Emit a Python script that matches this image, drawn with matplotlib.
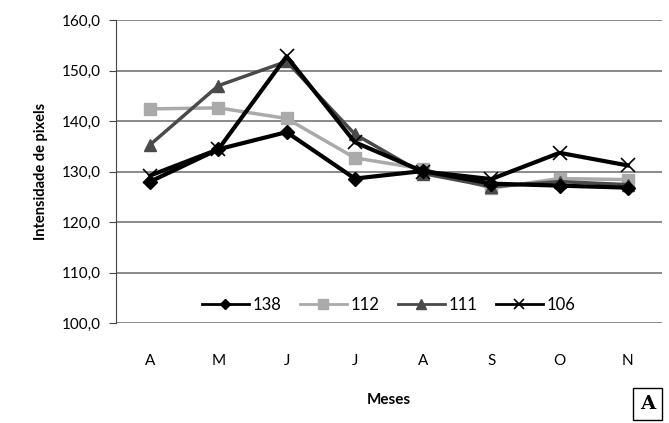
import matplotlib
matplotlib.use("Agg")
import matplotlib.pyplot as plt
from matplotlib.ticker import FuncFormatter

meses = ["A", "M", "J", "J", "A", "S", "O", "N"]
s138 = [128.0, 134.4, 137.8, 128.6, 130.1, 127.6, 127.2, 126.8]
s112 = [142.4, 142.6, 140.5, 132.7, 130.5, 126.7, 128.6, 128.4]
s111 = [135.3, 147.0, 151.8, 137.4, 129.6, 127.0, 128.0, 127.4]
s106 = [129.2, 134.4, 152.8, 135.8, 130.0, 128.5, 133.7, 131.2]

plt.rcParams['font.family'] = ['Lato', 'DejaVu Sans']

fig = plt.figure(figsize=(6.69, 4.23), dpi=100)
ax = fig.add_axes([0.1734, 0.2364, 0.816, 0.7163])
x = list(range(len(meses)))

ax.plot(x, s138, color='black', lw=3, marker='D', ms=7, label='138', zorder=4)
ax.plot(x, s112, color='#aaaaaa', lw=2.5, marker='s', ms=9, label='112', zorder=3)
ax.plot(x, s111, color='#4a4a4a', lw=2.5, marker='^', ms=9, label='111', zorder=3)
ax.plot(x, s106, color='black', lw=3, marker='x', ms=10, mew=1.2, label='106', zorder=5)

ax.set_xlim(-0.5, len(meses) - 0.5)
ax.set_ylim(100, 160)
ax.set_yticks(range(100, 161, 10))
ax.yaxis.set_major_formatter(FuncFormatter(lambda v, p: f"{v:.1f}".replace('.', ',')))
ax.set_xticks(x)
ax.set_xticklabels(meses)
ax.grid(axis='y', color='#777777', lw=1.2)
ax.set_axisbelow(True)
for s in ['top', 'right', 'bottom']:
    ax.spines[s].set_visible(False)
ax.spines['left'].set_color('#444444')
ax.tick_params(axis='y', direction='out', length=5, color='#444444', labelsize=11, pad=6)
ax.tick_params(axis='x', length=0, labelsize=11, pad=22)

ax.set_xlabel('Meses', fontsize=11, fontweight='bold', labelpad=18)
ax.set_ylabel('Intensidade de pixels', fontsize=10.5, fontweight='bold', labelpad=10)

leg = ax.legend(loc='center', bbox_to_anchor=(0.5, 0.06), ncol=4, frameon=False,
                fontsize=12, handlelength=2.8, handletextpad=0.25, columnspacing=1.1,
                markerscale=0.75)
for ln in leg.get_lines():
    ln.set_linewidth(2)

fig.text(0.968, 0.045, 'A', fontsize=14, fontweight='bold', family='DejaVu Serif',
         ha='center', va='center',
         bbox=dict(boxstyle='square,pad=0.35', fc='white', ec='black', lw=1))

fig.savefig('out.png', dpi=100)
